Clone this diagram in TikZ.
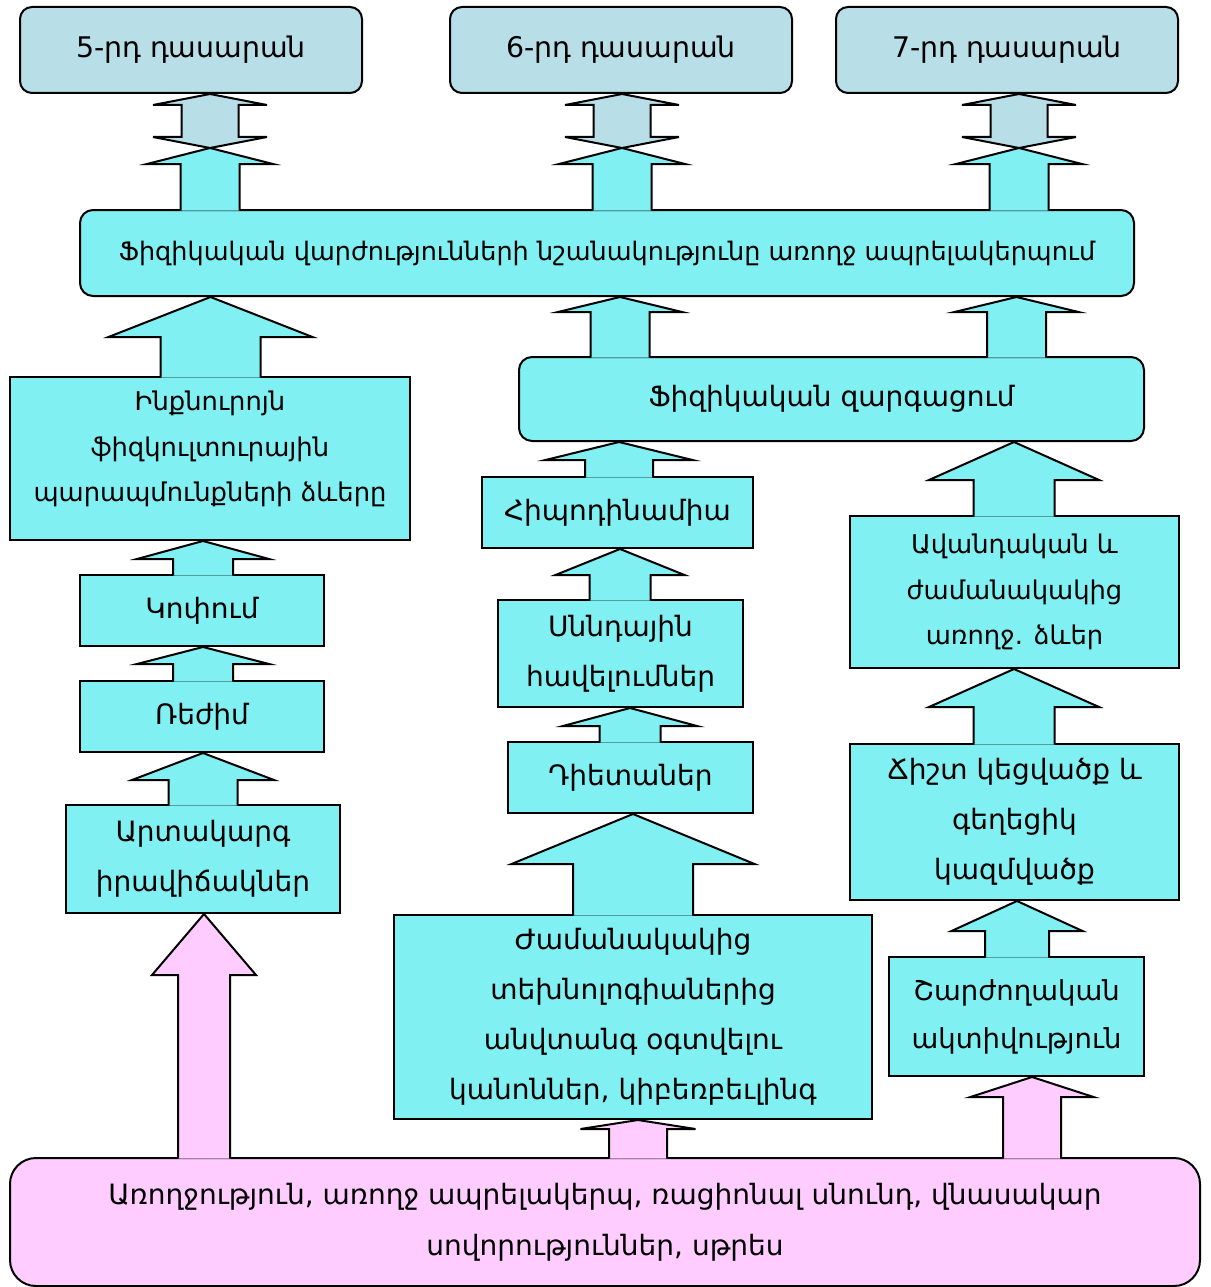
\documentclass[tikz,border=0pt]{standalone}
\usepackage{fontspec}
\setmainfont{DejaVu Sans}
\usepackage{xcolor}
\usetikzlibrary{positioning, calc}
\definecolor{GradeColor}{RGB}{184,222,232}
\definecolor{TopicColor}{RGB}{128,240,242}
\definecolor{BaseColor}{RGB}{255,204,255}
\tikzset{
    gradebox/.style={
        shape=rectangle, draw=black, line width=2pt, fill=GradeColor,
        rounded corners=12pt, inner sep=0pt, align=center,
        font=\fontsize{28.4}{34}\selectfont
    },
    topicbox/.style={
        shape=rectangle, draw=black, line width=2pt, fill=TopicColor,
        inner sep=0pt, align=center,
        font=\fontsize{28}{50}\selectfont
    },
    smalltext/.style={font=\fontsize{25.8}{45.5}\selectfont},
    roundbox/.style={topicbox, rounded corners=13pt},
    basebox/.style={topicbox, fill=BaseColor, rounded corners=26pt,
        font=\fontsize{28}{51}\selectfont},
    topicarrow/.style={draw=black, line width=2pt, fill=TopicColor},
    basearrow/.style={topicarrow, fill=BaseColor},
    gradearrow/.style={topicarrow, fill=GradeColor}
}
% block arrow: x, from point, to point, head length, head half width, shaft half width
\newcommand{\blkarrow}[7][topicarrow]{%
    \path (#2,0 |- #3) coordinate (ab) (#2,0 |- #4) coordinate (at);
    \filldraw[#1] ($(ab)+(-#7,1.5)$) -- ($(at)+(-#7,#5)$) -- ($(at)+(-#6,#5)$) -- (at)
        -- ($(at)+(#6,#5)$) -- ($(at)+(#7,#5)$) -- ($(ab)+(#7,1.5)$);
}
% notched arrow up to a grade box: x, meeting point, grade box
\newcommand{\gradearrow}[3]{%
    \path (#1,0 |- #3.south) coordinate (gt) (#1,0 |- #2) coordinate (gb);
    \filldraw[gradearrow] (gt) -- ++(57,11) -- ++(-28.5,0) -- ($(gb)+(28.5,-11)$) -- ++(28.5,0)
        -- (gb) -- ++(-57,-11) -- ++(28.5,0) -- ($(gt)+(-28.5,11)$) -- ++(-28.5,0) -- cycle;
}

\begin{document}
\begin{tikzpicture}[x=1pt, y=-1pt, line join=miter]
\useasboundingbox (0,0) rectangle (1210,1287);

% Grades
\node[gradebox, minimum width=342pt, minimum height=86pt] (grade5) at (191,50) {5-րդ դասարան};
\node[gradebox, minimum width=342pt, minimum height=86pt] (grade6) at (621,50) {6-րդ դասարան};
\node[gradebox, minimum width=342pt, minimum height=86pt] (grade7) at (1007,50) {7-րդ դասարան};

% Main topic
\node[roundbox, font=\fontsize{25.5}{30}\selectfont, minimum width=1054pt, minimum height=86pt] (main) at (607,253)
    {Ֆիզիկական վարժությունների նշանակությունը առողջ ապրելակերպում};

% Column 1
\node[topicbox, smalltext, text depth=24pt, minimum width=400pt, minimum height=163pt] (self) at (210,458.5)
    {Ինքնուրոյն\\ֆիզկուլտուրային\\պարապմունքների ձևերը};
\node[topicbox, minimum width=244pt, minimum height=71pt] (hard) at (202,610.5) {Կոփում};
\node[topicbox, minimum width=244pt, minimum height=71pt] (regime) at (202,716.5) {Ռեժիմ};
\node[topicbox, minimum width=274pt, minimum height=108pt] (emerg) at (203,859) {Արտակարգ\\իրավիճակներ};

% Column 2
\node[roundbox, minimum width=625pt, minimum height=84pt] (devel) at (831.5,399) {Ֆիզիկական զարգացում};
\node[topicbox, minimum width=271pt, minimum height=71pt] (hypo) at (617.5,512.5) {Հիպոդինամիա};
\node[topicbox, minimum width=245pt, minimum height=107pt] (suppl) at (620.5,653.5) {Սննդային\\հավելումներ};
\node[topicbox, minimum width=245pt, minimum height=71pt] (diet) at (630.5,777.5) {Դիետաներ};
\node[topicbox, minimum width=478pt, minimum height=204pt] (tech) at (633,1017)
    {Ժամանակակից\\տեխնոլոգիաներից\\անվտանգ օգտվելու\\կանոններ, կիբեռբեւլինգ};

% Column 3
\node[topicbox, smalltext, minimum width=329pt, minimum height=152pt] (trad) at (1014.5,592)
    {Ավանդական և\\ժամանակակից\\առողջ. ձևեր};
\node[topicbox, minimum width=329pt, minimum height=156pt] (posture) at (1014.5,822)
    {Ճիշտ կեցվածք և\\գեղեցիկ\\կազմվածք};
\node[topicbox, font=\fontsize{27.5}{48}\selectfont, minimum width=255pt, minimum height=119pt] (motion) at (1016.5,1016.5)
    {Շարժողական\\ակտիվություն};

% Base
\node[basebox, minimum width=1190pt, minimum height=128pt] (health) at (605,1222)
    {Առողջություն, առողջ ապրելակերպ, ռացիոնալ սնունդ, վնասակար\\սովորություններ, սթրես};

% Arrows to grades
\coordinate (meet5) at (210,148);
\coordinate (meet6) at (622,148);
\coordinate (meet7) at (1019,148);
\blkarrow{210}{main.north}{meet5}{16}{63}{29.5}
\blkarrow{622}{main.north}{meet6}{16}{63}{29.5}
\blkarrow{1019}{main.north}{meet7}{16}{63}{29.5}
\gradearrow{210}{meet5}{grade5}
\gradearrow{622}{meet6}{grade6}
\gradearrow{1019}{meet7}{grade7}

% Arrows to main topic
\blkarrow{210.5}{self.north}{main.south}{40}{102}{50}
\blkarrow{620}{devel.north}{main.south}{15}{62}{29.5}
\blkarrow{1016.5}{devel.north}{main.south}{15}{62}{29.5}

% Column 1 arrows
\blkarrow{203}{hard.north}{self.south}{18}{66}{30}
\blkarrow{203}{regime.north}{hard.south}{17}{66}{30}
\blkarrow{203}{emerg.north}{regime.south}{27}{71}{34.5}
\blkarrow[basearrow]{204}{health.north}{emerg.south}{61}{52}{26}

% Column 2 arrows
\blkarrow{619}{hypo.north}{devel.south}{18}{73.5}{34}
\blkarrow{620}{suppl.north}{hypo.south}{26}{64.5}{30.5}
\blkarrow{630}{diet.north}{suppl.south}{18}{67}{30.5}
\blkarrow{633}{tech.north}{diet.south}{50}{121.5}{60}
\blkarrow[basearrow]{638}{health.north}{tech.south}{9}{57.5}{29}

% Column 3 arrows
\blkarrow{1014}{trad.north}{devel.south}{38}{85}{40.5}
\blkarrow{1014}{posture.north}{trad.south}{38}{85}{40.5}
\blkarrow{1017}{motion.north}{posture.south}{30}{65.5}{32}
\blkarrow[basearrow]{1032}{health.north}{motion.south}{20}{61.5}{29}

\end{tikzpicture}
\end{document}
